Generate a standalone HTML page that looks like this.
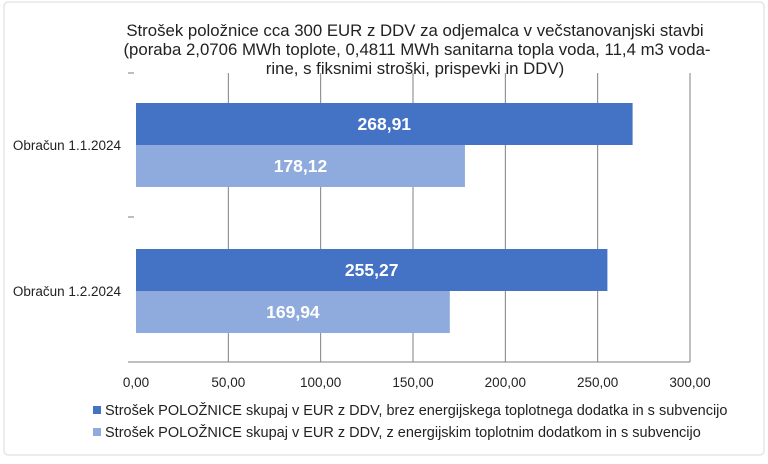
<!DOCTYPE html>
<html><head><meta charset="utf-8"><style>
body{margin:0;background:#fff;font-family:"Liberation Sans",Arial,sans-serif}
svg text{font-family:"Liberation Sans",Arial,sans-serif}
</style></head><body>
<svg id="c" width="768" height="459" xmlns="http://www.w3.org/2000/svg">
<rect x="4" y="2" width="760" height="453" rx="4" fill="#fff" stroke="#d9d9d9"/>
<g font-size="16.8" fill="#222" text-anchor="middle">
<text x="415" y="36">Strošek položnice cca 300 EUR z DDV za odjemalca v večstanovanjski stavbi</text>
<text x="417" y="55">(poraba 2,0706 MWh toplote, 0,4811 MWh sanitarna topla voda, 11,4 m3 voda-</text>
<text x="415" y="74">rine, s fiksnimi stroški, prispevki in DDV)</text>
</g>
<g id="plot"></g>
<g font-size="14.5" fill="#222">
<rect x="93" y="406" width="8" height="8" fill="#4472c4"/>
<text x="105" y="415">Strošek POLOŽNICE skupaj v EUR z DDV, brez energijskega toplotnega dodatka in s subvencijo</text>
<rect x="93" y="428" width="8" height="8" fill="#8faadc"/>
<text x="105" y="437">Strošek POLOŽNICE skupaj v EUR z DDV, z energijskim toplotnim dodatkom in s subvencijo</text>
</g>
</svg>
<script>
const categories=["Obračun 1.1.2024","Obračun 1.2.2024"];
const seriesA=[268.91,255.27];
const seriesB=[178.12,169.94];
const ticks=[0,50,100,150,200,250,300];
const NS="http://www.w3.org/2000/svg";
const g=document.getElementById('plot');
const x0=136,x1=690,yTop=73,yBot=362;
const xs=v=>x0+(v/300)*(x1-x0);
function el(t,a,txt){const e=document.createElementNS(NS,t);for(const k in a)e.setAttribute(k,a[k]);if(txt!==undefined)e.textContent=txt;g.appendChild(e);return e;}
ticks.forEach((t,i)=>{
 if(t>0){const l=el('line',{x1:xs(t),x2:xs(t),y1:yTop,y2:yBot,stroke:'#7f7f7f','stroke-width':1});
 
 }
 const tx=el('text',{x:xs(t),y:387,'font-size':13.5,'text-anchor':'middle',fill:'#222'},t.toFixed(2).replace('.',','));
 
 
});
const ax=el('line',{x1:128,x2:x1,y1:yBot,y2:yBot,stroke:'#7f7f7f'});


[yTop,217].forEach(y=>{const m=el('line',{x1:128,x2:134,y1:y,y2:y,stroke:'#7f7f7f'});

});
const bandTop=[103,249],bh=42;
categories.forEach((c,i)=>{
 const y=bandTop[i];
 const a=el('rect',{x:x0,y:y,width:xs(seriesA[i])-x0,height:bh,fill:'#4472c4'});
 
 
 const b=el('rect',{x:x0,y:y+bh,width:xs(seriesB[i])-x0,height:bh,fill:'#8faadc'});
 
 
 const la=el('text',{x:(x0+xs(seriesA[i]))/2,y:y+bh/2+6,'font-size':17.5,'font-weight':'bold','text-anchor':'middle',fill:'#fff'},seriesA[i].toFixed(2).replace('.',','));
 
 
 const lb=el('text',{x:(x0+xs(seriesB[i]))/2,y:y+bh*1.5+6,'font-size':17.5,'font-weight':'bold','text-anchor':'middle',fill:'#fff'},seriesB[i].toFixed(2).replace('.',','));
 
 
 const cl=el('text',{x:121,y:y+bh+5,'font-size':13.5,'text-anchor':'end',fill:'#222'},c);
 
 
});
</script>
</body></html>
